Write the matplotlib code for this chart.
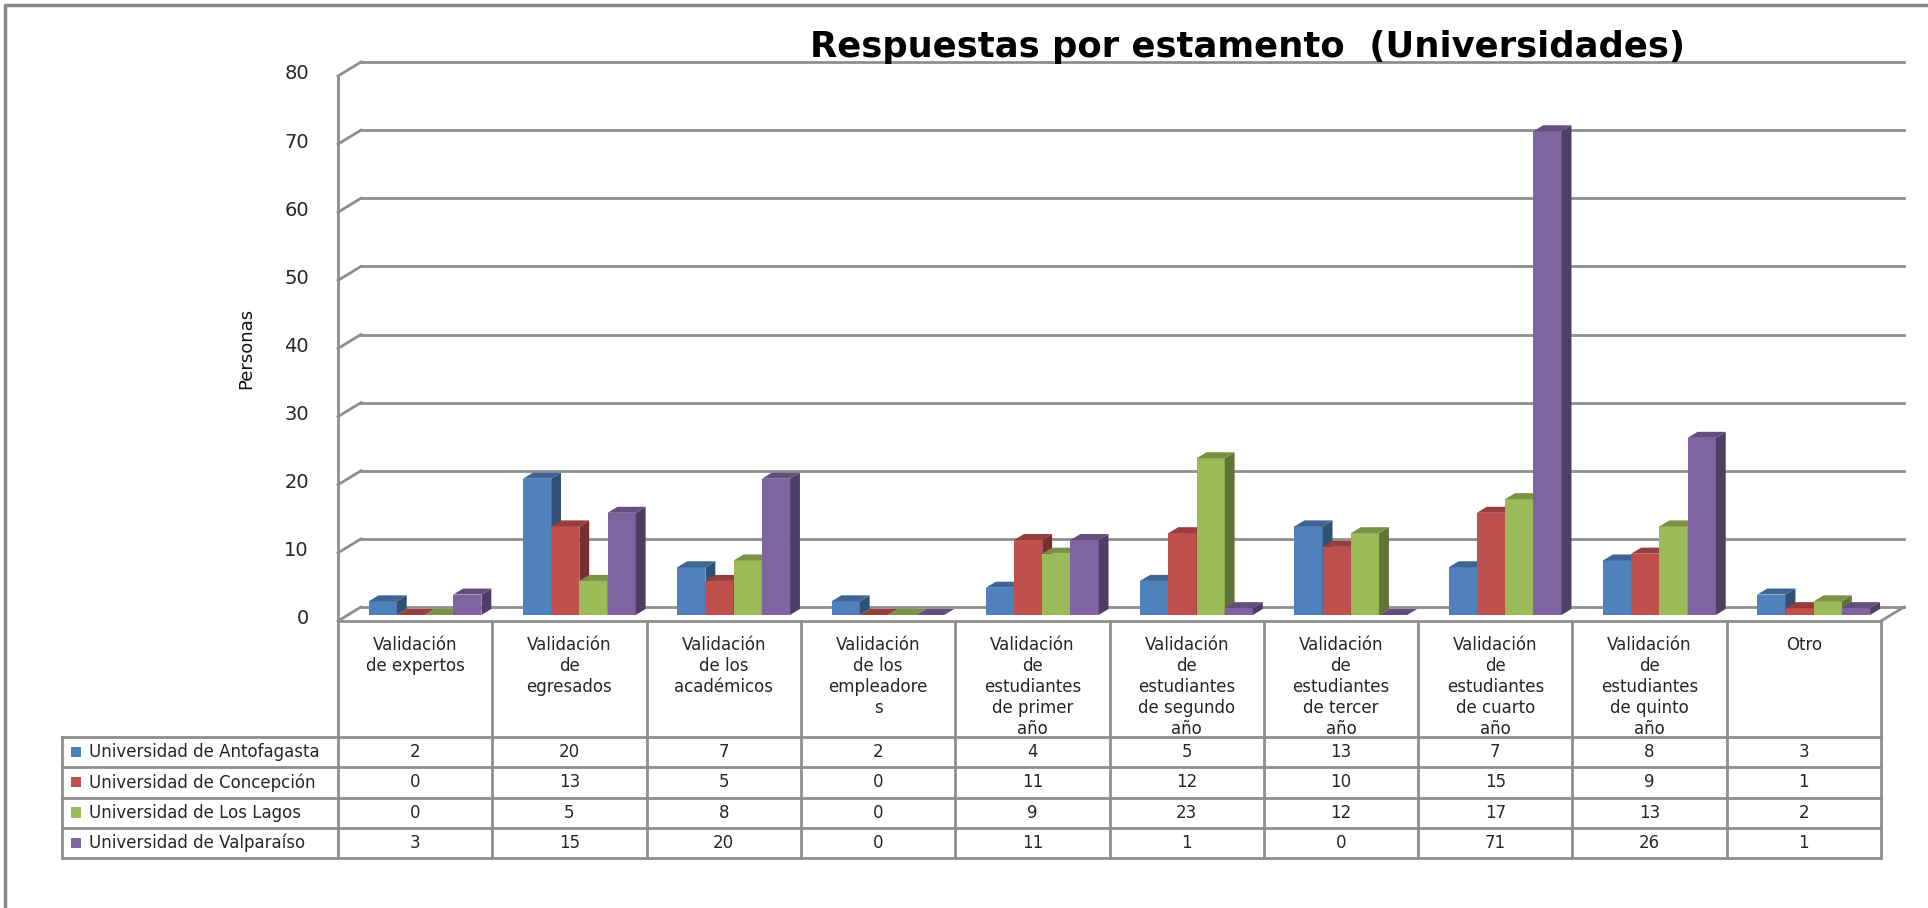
import matplotlib

matplotlib.use("Agg")
import matplotlib.pyplot as plt
from matplotlib.colors import to_rgb
from matplotlib.patches import Polygon, Rectangle
from matplotlib.lines import Line2D

# data (Excel 3D column chart with data table)
categories = [
    "Validación\nde expertos",
    "Validación\nde\negresados",
    "Validación\nde los\nacadémicos",
    "Validación\nde los\nempleadore\ns",
    "Validación\nde\nestudiantes\nde primer\naño",
    "Validación\nde\nestudiantes\nde segundo\naño",
    "Validación\nde\nestudiantes\nde tercer\naño",
    "Validación\nde\nestudiantes\nde cuarto\naño",
    "Validación\nde\nestudiantes\nde quinto\naño",
    "Otro",
]
series_names = [
    "Universidad de Antofagasta",
    "Universidad de Concepción",
    "Universidad de Los Lagos",
    "Universidad de Valparaíso",
]
antofagasta = [2, 20, 7, 2, 4, 5, 13, 7, 8, 3]
concepcion = [0, 13, 5, 0, 11, 12, 10, 15, 9, 1]
los_lagos = [0, 5, 8, 0, 9, 23, 12, 17, 13, 2]
valparaiso = [3, 15, 20, 0, 11, 1, 0, 71, 26, 1]
yticks = [0, 10, 20, 30, 40, 50, 60, 70, 80]

series = [antofagasta, concepcion, los_lagos, valparaiso]
colors = ["#4F81BD", "#C0504D", "#9BBB59", "#8064A2"]
GRID = "#8E8E8E"
TXT = "#262626"

W, H = 1928, 908
fig = plt.figure(figsize=(W / 100, H / 100), dpi=100)

# front plane of the plot in pixels
X0, X1, Y0, Y80 = 338, 1881, 621, 76
ax = fig.add_axes([X0 / W, 1 - Y0 / H, (X1 - X0) / W, (Y0 - Y80) / H])
n = len(categories)
ax.set_xlim(0, n)
ax.set_ylim(0, 80)
ax.axis("off")

px = n / (X1 - X0)       # data x per pixel
py = 80 / (Y0 - Y80)     # data y per pixel
DX, DY = 23 * px, 14 * py  # depth of the 3D box


def line(xs, ys, **kw):
    ax.add_line(Line2D(xs, ys, color=GRID, lw=2.0, clip_on=False, **kw))


# walls / gridlines
for v in yticks:
    line([DX, n + DX], [v + DY, v + DY])
    line([0, DX], [v, v + DY])
    ax.text(-29 * px, v + 0.3, str(v), ha="right", va="center", fontsize=14,
            family="DejaVu Sans", color=TXT)
line([0, 0], [0, 80])
line([n, n + DX], [0, DY])

# bars
bw = 28.2 * px
f0, fd = 0.43, 0.43
for i in range(n):
    left0 = i + 0.5 - 2 * bw + f0 * DX
    base = f0 * DY
    for k, vals in enumerate(series):
        v = vals[i]
        c = to_rgb(colors[k])
        side = tuple(ch * 0.62 for ch in c)
        top = tuple(ch * 0.78 for ch in c)
        x = left0 + k * bw
        ddx, ddy = fd * DX, fd * DY
        if v > 0:
            ax.add_patch(Rectangle((x, base), bw, v, facecolor=c, edgecolor="none",
                                   clip_on=False, zorder=3))
            ax.add_patch(Polygon([(x + bw, base), (x + bw + ddx, base + ddy),
                                  (x + bw + ddx, base + v + ddy), (x + bw, base + v)],
                                 facecolor=side, edgecolor="none", clip_on=False, zorder=3))
        ax.add_patch(Polygon([(x, base + v), (x + bw, base + v),
                              (x + bw + ddx, base + v + ddy), (x + ddx, base + v + ddy)],
                             facecolor=top, edgecolor="none", clip_on=False, zorder=3))

ax.text(-92 * px, 40, "Personas", rotation=90, ha="center", va="center", fontsize=13,
        family=["Liberation Sans Narrow", "DejaVu Sans"], color="#111111")

# data table below the plot
hdr = 116 * py
rh = 30.3 * py
leg_left = (62 - X0) * px
for i in range(n + 1):
    line([i, i], [0, -hdr - 4 * rh])
line([leg_left, leg_left], [-hdr, -hdr - 4 * rh])
for r in range(5):
    line([leg_left, n], [-hdr - r * rh, -hdr - r * rh])
line([0, n], [0, 0])

for i, cat in enumerate(categories):
    ax.text(i + 0.5, -15 * py, cat, ha="center", va="top", fontsize=12,
            family="DejaVu Sans", color=TXT, linespacing=1.22)
for r, vals in enumerate(series):
    yc = -hdr - (r + 0.5) * rh
    for i, v in enumerate(vals):
        ax.text(i + 0.5, yc, str(v), ha="center", va="center", fontsize=12,
                family="DejaVu Sans", color=TXT)
    ax.add_patch(Rectangle((leg_left + 9 * px, yc - 5 * py), 10.5 * px, 10.5 * py,
                           facecolor=colors[r], edgecolor="none", clip_on=False))
    ax.text(leg_left + 27 * px, yc, series_names[r], ha="left", va="center", fontsize=12,
            family="DejaVu Sans", color=TXT)

fig.text(1248 / W, 1 - 47 / H, "Respuestas por estamento  (Universidades)", ha="center",
         va="center", fontsize=25.5, fontweight="bold", family="DejaVu Sans", color="black")

# outer chart border (right and bottom edges fall outside the picture)
fig.add_artist(Line2D([5 / W, 5 / W, 1], [0, 1 - 5 / H, 1 - 5 / H],
                      transform=fig.transFigure, color="#8A8A8A", lw=2.5))

fig.savefig("out.png", dpi=100)
